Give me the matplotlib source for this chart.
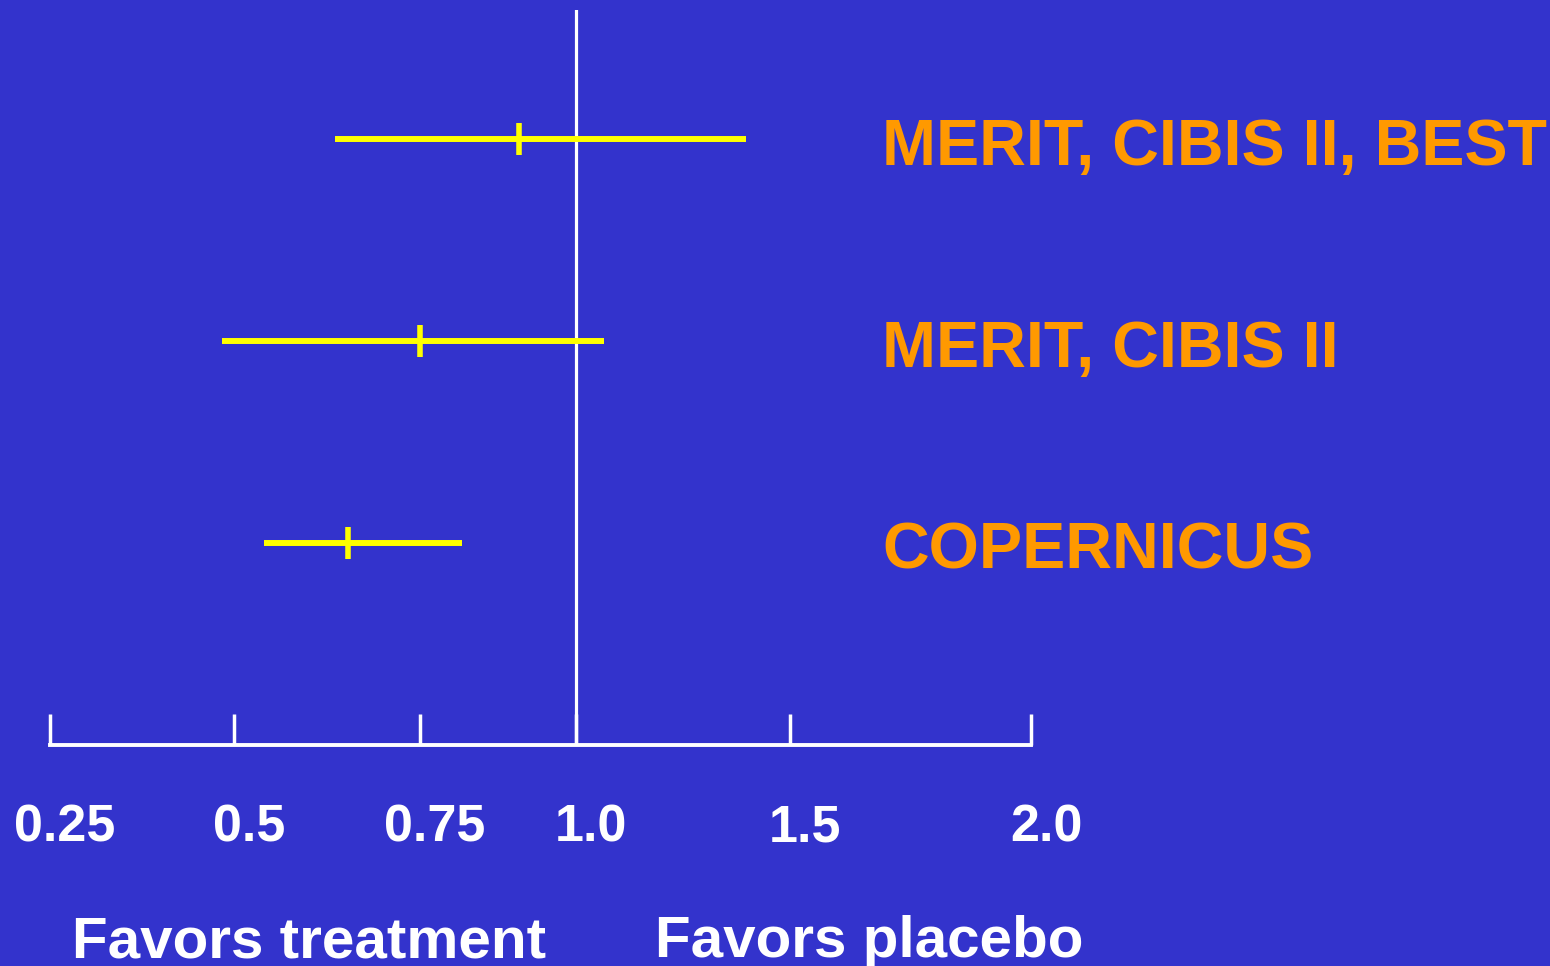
import numpy as np
import matplotlib
matplotlib.use('Agg')
import matplotlib.pyplot as plt
import matplotlib.transforms as mtransforms

plt.rcParams['font.family'] = ['Liberation Sans', 'DejaVu Sans']
plt.rcParams['font.weight'] = 'bold'

# trials, row 1 = bottom of the plot
trials = ['COPERNICUS', 'MERIT, CIBIS II', 'MERIT, CIBIS II, BEST']
rows = [1, 2, 3]
point_est = [0.653, 0.75, 0.909]
ci_low = [0.540, 0.484, 0.636]
ci_high = [0.817, 1.065, 1.397]

tick_values = [0.25, 0.5, 0.75, 1.0, 1.5, 2.0]
tick_labels = ['0.25', '0.5', '0.75', '1.0', '1.5', '2.0']
# the slide's axis is drawn with uneven spacing between ticks
tick_spacing = [0.0, 1.0, 2.011, 2.859, 4.022, 5.332]

BG = '#3333cc'
YELLOW = '#ffff00'
ORANGE = '#ff9900'


def forward(x):
    return np.interp(x, tick_values, tick_spacing)


def inverse(y):
    return np.interp(y, tick_spacing, tick_values)


fig = plt.figure(figsize=(15.5, 9.66), dpi=100)
fig.patch.set_facecolor(BG)
W, H = 1550, 966
ax = fig.add_axes([50 / W, (H - 745) / H, (1031 - 50) / W, (745 - 10) / H])
ax.set_facecolor(BG)
ax.set_xscale('function', functions=(forward, inverse))
ax.set_xlim(0.25, 2.0)
ax.set_ylim(0, 3.64)

for s in ['top', 'right', 'left']:
    ax.spines[s].set_visible(False)
ax.spines['bottom'].set_color('white')
ax.spines['bottom'].set_linewidth(2.8)
ax.spines['bottom'].set_capstyle('projecting')
ax.set_yticks([])
ax.set_xticks(tick_values)
ax.set_xticklabels([])
ax.tick_params(axis='x', direction='in', length=22, width=2.5, color='white')

ax.axvline(1.0, color='white', lw=2.3, zorder=1)

ax.hlines(rows, ci_low, ci_high, color=YELLOW, lw=4.3, zorder=3)
ax.plot(point_est, rows, linestyle='none', marker='|', markersize=23,
        markeredgewidth=4, color=YELLOW, zorder=4)

# tick labels, nudged a little to the right as on the slide
offset = mtransforms.ScaledTranslation(15 / 100, 0, fig.dpi_scale_trans)
for v, lab in zip(tick_values, tick_labels):
    ax.text(v, -0.079, lab, transform=ax.get_xaxis_transform() + offset,
            ha='center', va='top', color='white', fontsize=37.5, fontweight='bold')

label_trans = mtransforms.blended_transform_factory(fig.transFigure, ax.transData)
for r, name in zip(rows, trials):
    ax.annotate(name, xy=(882 / W, r - 0.01), xycoords=label_trans,
                ha='left', va='center_baseline', color=ORANGE, fontsize=46.5,
                fontweight='bold', annotation_clip=False)

fig.text(72 / W, (H - 957) / H, 'Favors treatment', ha='left', va='baseline',
         color='white', fontsize=42, fontweight='bold')
fig.text(655 / W, (H - 957) / H, 'Favors placebo', ha='left', va='baseline',
         color='white', fontsize=42, fontweight='bold')

fig.savefig('out.png', dpi=100, facecolor=BG)
